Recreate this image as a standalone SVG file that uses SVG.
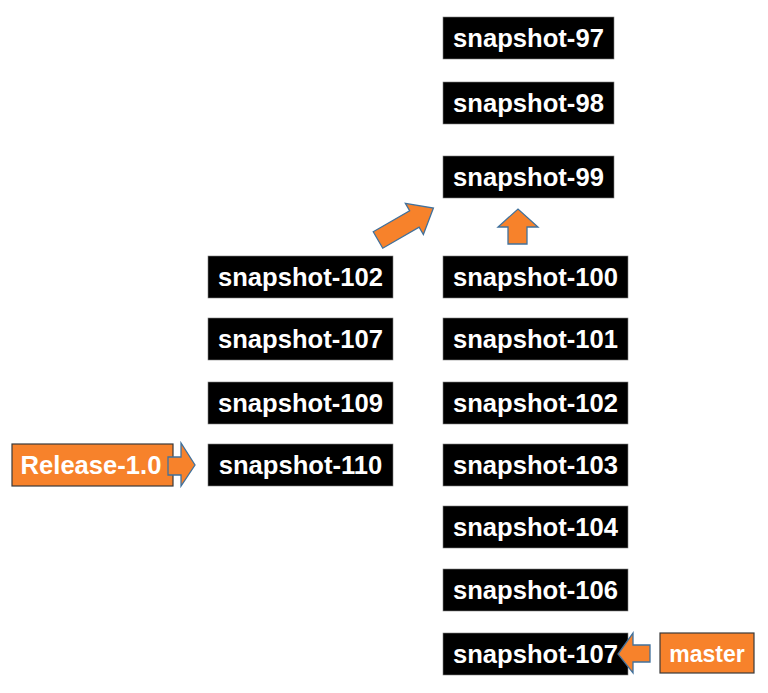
<svg xmlns="http://www.w3.org/2000/svg" width="768" height="693" viewBox="0 0 768 693">
<style>
.n rect{fill:#000;stroke:#7f7f7f;stroke-width:0.6}
.n text,.l text{font-family:"Liberation Sans",Arial,sans-serif;font-weight:bold;font-size:25.6px;fill:#fff;text-anchor:middle}
.l rect{fill:#F7822B;stroke:#3a3a3a;stroke-width:1.2}
.a{fill:#F7822B;stroke:#41719C;stroke-width:1.3;stroke-linejoin:miter}
</style>
<rect width="768" height="693" fill="#fff"/>
<g id="n97" class="n"><rect x="443" y="17" width="171" height="42"/><text x="528.5" y="47">snapshot-97</text></g>
<g id="n98" class="n"><rect x="443" y="82" width="171" height="42"/><text x="528.5" y="112">snapshot-98</text></g>
<g id="n99" class="n"><rect x="443" y="156" width="171" height="42"/><text x="528.5" y="186">snapshot-99</text></g>
<g id="n100" class="n"><rect x="443" y="256" width="185" height="42"/><text x="535.5" y="286">snapshot-100</text></g>
<g id="n101" class="n"><rect x="443" y="318" width="185" height="42"/><text x="535.5" y="348">snapshot-101</text></g>
<g id="n102" class="n"><rect x="443" y="382" width="185" height="42"/><text x="535.5" y="412">snapshot-102</text></g>
<g id="n103" class="n"><rect x="443" y="444" width="185" height="42"/><text x="535.5" y="474">snapshot-103</text></g>
<g id="n104" class="n"><rect x="443" y="506" width="185" height="42"/><text x="535.5" y="536">snapshot-104</text></g>
<g id="n106" class="n"><rect x="443" y="569" width="185" height="42"/><text x="535.5" y="599">snapshot-106</text></g>
<g id="n107" class="n"><rect x="443" y="633" width="185" height="42"/><text x="535.5" y="663">snapshot-107</text></g>
<g id="b102" class="n"><rect x="208" y="256" width="185" height="42"/><text x="300.5" y="286">snapshot-102</text></g>
<g id="b107" class="n"><rect x="208" y="318" width="185" height="42"/><text x="300.5" y="348">snapshot-107</text></g>
<g id="b109" class="n"><rect x="208" y="382" width="185" height="42"/><text x="300.5" y="412">snapshot-109</text></g>
<g id="b110" class="n"><rect x="208" y="444" width="185" height="42"/><text x="300.5" y="474">snapshot-110</text></g>
<g id="release" class="l"><rect x="12" y="444" width="161" height="42"/><text x="91" y="474">Release-1.0</text></g>
<g id="master" class="l"><rect x="660" y="633" width="94" height="40"/><text x="707" y="662" style="font-size:23px">master</text></g>
<g id="connectors">
<polygon class="a" points="0,-9.5 42,-9.5 42,-18 64,0 42,18 42,9.5 0,9.5" transform="translate(378,240) rotate(-30)"/>
<polygon class="a" points="508,244 508,227 498,227 518,209 538,227 527,227 527,244"/>
<polygon class="a" points="168,457 181,457 181,443 195,465 181,486 181,475 168,475"/>
<polygon class="a" points="650,645 633,645 633,633 618,654 633,673 633,662 650,662"/>
</g>
</svg>
